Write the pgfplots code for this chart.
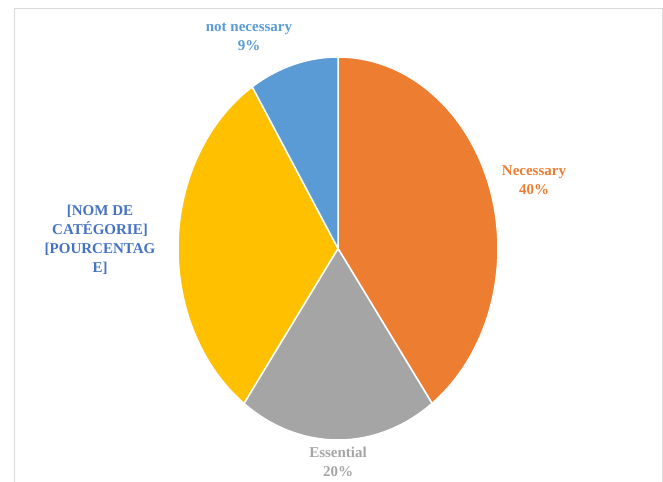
\documentclass[border=0pt]{standalone}
\usepackage{pgfplots}
\pgfplotsset{compat=1.18}
\usepackage{fontspec}
\setmainfont{Liberation Serif}
\definecolor{cNec}{HTML}{ED7D31}
\definecolor{cEss}{HTML}{A5A5A5}
\definecolor{cOth}{HTML}{FFC000}
\definecolor{cNot}{HTML}{5B9BD5}
\definecolor{cLab}{HTML}{4472C4}
\definecolor{cFrame}{HTML}{D9D9D9}
% values (percent): Necessary 40, Essential 20, [other] 31, not necessary 9
\pgfmathsetmacro\aA{90}
\pgfmathsetmacro\aB{\aA-3.6*40}
\pgfmathsetmacro\aC{\aB-3.6*20}
\pgfmathsetmacro\aD{\aC-3.6*31}
\pgfmathsetmacro\aE{\aD-3.6*9}
\def\cx{338}\def\cy{233.5}\def\rx{160}\def\ry{191.5}
\begin{document}
\begin{tikzpicture}
\begin{axis}[width=663bp, height=482bp, scale only axis,
  xmin=0, xmax=663, ymin=0, ymax=482, hide axis, clip=false,
  every axis plot/.append style={draw=white, line width=1.5bp, samples=80, variable=\t}]
\addplot[fill=cNec, domain=\aB:\aA] ({\cx+\rx*cos(\t)},{\cy+\ry*sin(\t)}) -- (axis cs:\cx,\cy) -- cycle;
\addplot[fill=cEss, domain=\aC:\aB] ({\cx+\rx*cos(\t)},{\cy+\ry*sin(\t)}) -- (axis cs:\cx,\cy) -- cycle;
\addplot[fill=cOth, domain=\aD:\aC] ({\cx+\rx*cos(\t)},{\cy+\ry*sin(\t)}) -- (axis cs:\cx,\cy) -- cycle;
\addplot[fill=cNot, domain=\aE:\aD] ({\cx+\rx*cos(\t)},{\cy+\ry*sin(\t)}) -- (axis cs:\cx,\cy) -- cycle;
\draw[cFrame, line width=1bp] (axis cs:14.5,-5) -- (axis cs:14.5,473) -- (axis cs:662,473) -- (axis cs:662,-5);
\tikzset{lab/.style={align=center, font=\bfseries\fontsize{15bp}{19bp}\selectfont, inner sep=0pt}}
\node[lab, text=cNot] at (axis cs:249,445) {not necessary\\9\%};
\node[lab, text=cNec] at (axis cs:534,302) {Necessary\\40\%};
\node[lab, text=cEss] at (axis cs:338,20) {Essential\\20\%};
\node[lab, text=cLab] at (axis cs:100,242.5) {{[}NOM DE\\{}CATÉGORIE{]}\\{}{[}POURCENTAG\\{}E{]}};
\end{axis}
\pgfresetboundingbox
\useasboundingbox (0,0) rectangle (663bp,482bp);
\end{tikzpicture}
\end{document}
